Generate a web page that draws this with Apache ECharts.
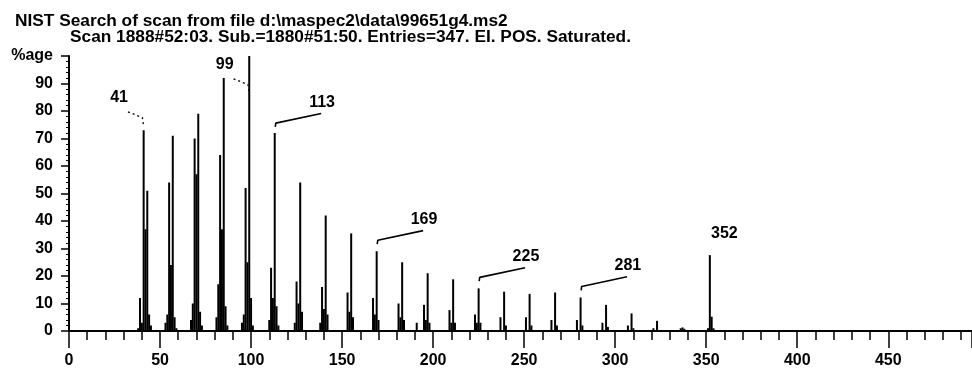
<!DOCTYPE html>
<html>
<head>
<meta charset="utf-8">
<script src="https://cdn.jsdelivr.net/npm/echarts@6/dist/echarts.min.js"></script>
<style>
  html, body { margin: 0; padding: 0; background: #fff; }
  #chart { width: 972px; height: 370px; }
</style>
</head>
<body>
<div id="chart"></div>
<script>
// m/z of every line and its intensity (% of base peak)
const peakMz = [
  38, 39, 40, 41, 42, 43, 44, 45,
  53, 54, 55, 56, 57, 58, 59,
  67, 68, 69, 70, 71, 72, 73,
  81, 82, 83, 84, 85, 86, 87,
  95, 96, 97, 98, 99, 100, 101,
  110, 111, 112, 113, 114, 115,
  124, 125, 126, 127, 128,
  138, 139, 140, 141, 142,
  153, 154, 155, 156,
  167, 168, 169, 170,
  181, 182, 183, 184,
  191, 195, 196, 197, 198,
  209, 210, 211, 212,
  223, 224, 225, 226,
  237, 239, 240,
  251, 253, 254,
  265, 267, 268,
  279, 281, 282,
  293, 295, 296,
  307, 309, 310,
  321, 323,
  336, 337, 338,
  351, 352, 353, 354
];
const peakPct = [
  1, 12, 3, 73, 37, 51, 6, 2,
  3, 6, 54, 24, 71, 5, 1,
  4, 10, 70, 57, 79, 7, 2,
  5, 17, 64, 37, 92, 9, 2,
  3, 6, 52, 25, 100, 12, 2,
  4, 23, 12, 72, 9, 2,
  3, 18, 10, 54, 7,
  3, 16, 8, 42, 6,
  14, 7, 35.5, 5,
  12, 6, 29, 4,
  10, 5, 25, 4,
  3, 9.5, 4, 21, 3,
  7.6, 3, 18.8, 3,
  6, 3, 15.5, 3,
  5, 14.3, 2,
  5, 13.5, 2,
  4, 14, 2,
  4, 12.2, 2,
  3, 9.5, 1.5,
  2, 6.4, 1,
  1, 3.7,
  1, 1.3, 0.8,
  1, 27.6, 5.2, 1
];

// annotated peaks and the % level each note points at
const labelMz = [41, 99, 113, 169, 225, 281, 352];
const labelText = ['41', '99', '113', '169', '225', '281', '352'];
const labelLevel = [73, 85, 71.6, 29, 15.5, 12.2, 27.6];

const titleLine1 = 'NIST Search of scan from file d:\\maspec2\\data\\99651g4.ms2';
const titleLine2 = 'Scan 1888#52:03. Sub.=1880#51:50. Entries=347. EI. POS. Saturated.';

const font = '"Liberation Sans", Arial, sans-serif';

const chart = echarts.init(document.getElementById('chart'), null, { renderer: 'canvas' });

// leader lines and text anchors for the notes
const leaderSeries = [];
const notePoints = [];
labelMz.forEach((mz, i) => {
  const L = labelLevel[i];
  let pts = null, dotted = false, txt;
  if (i < 2) {
    pts = [[mz - 8.6, L + 6.7], [mz - 0.7, L + 4.6], [mz, L + 4.4], [mz, L + 1.5]];
    dotted = true;
    txt = [mz - 13.5, L + 11.7];
  } else if (i < labelMz.length - 1) {
    pts = [[mz + 0.3, L + 2.6], [mz + 0.6, L + 4.0], [mz + 1.5, L + 4.3], [mz + 25.5, L + 7.5]];
    txt = [mz + 26, L + 11.6];
  } else {
    txt = [mz + 8, L + 8];
  }
  notePoints.push({ value: txt, name: labelText[i] });
  if (pts) {
    leaderSeries.push({
      type: 'line',
      data: pts,
      symbol: 'none',
      silent: true,
      animation: false,
      lineStyle: { color: '#000', width: dotted ? 1.3 : 1.6, type: dotted ? [2, 3] : 'solid' },
      z: 3
    });
  }
});

const option = {
  backgroundColor: '#fff',
  animation: false,
  graphic: [
    {
      type: 'text', left: 15, top: 14, scaleX: 1.08,
      style: { text: titleLine1, font: 'bold 16px ' + font, fill: '#000' }
    },
    {
      type: 'text', left: 70, top: 30, scaleX: 1.08,
      style: { text: titleLine2, font: 'bold 16px ' + font, fill: '#000' }
    }
  ],
  grid: { left: 69, right: 0, top: 56, bottom: 39 },
  xAxis: {
    type: 'value',
    min: 0,
    max: 496,
    interval: 50,
    axisLine: { lineStyle: { color: '#000', width: 2 } },
    axisTick: { length: 17, lineStyle: { color: '#000', width: 1.5 } },
    minorTick: { show: true, splitNumber: 5, length: 9, lineStyle: { color: '#000', width: 1.5 } },
    axisLabel: {
      margin: 22, color: '#000', fontFamily: font, fontSize: 16, fontWeight: 'bold',
      showMaxLabel: false
    },
    splitLine: { show: false }
  },
  yAxis: {
    type: 'value',
    min: 0,
    max: 100,
    interval: 10,
    axisLine: { show: true, lineStyle: { color: '#000', width: 2 } },
    axisTick: { show: true, length: 8, lineStyle: { color: '#000', width: 1.5 } },
    minorTick: { show: true, splitNumber: 5, length: 3, lineStyle: { color: '#000', width: 1 } },
    axisLabel: {
      margin: 16, color: '#000', fontFamily: font, fontSize: 16, fontWeight: 'bold',
      formatter: v => (v === 100 ? '%age' : v)
    },
    splitLine: { show: false }
  },
  series: [
    {
      type: 'bar',
      barWidth: 2,
      silent: true,
      data: peakMz.map((m, i) => [m, peakPct[i]]),
      itemStyle: { color: '#000' },
      z: 2
    },
    ...leaderSeries,
    {
      type: 'scatter',
      symbolSize: 1,
      silent: true,
      itemStyle: { color: 'transparent' },
      data: notePoints,
      label: {
        show: true,
        position: 'inside',
        formatter: p => p.name,
        color: '#000',
        opacity: 1,
        textBorderWidth: 0,
        textBorderColor: 'transparent',
        fontFamily: font,
        fontSize: 16,
        fontWeight: 'bold'
      },
      z: 4
    }
  ]
};

chart.setOption(option);
</script>
</body>
</html>
